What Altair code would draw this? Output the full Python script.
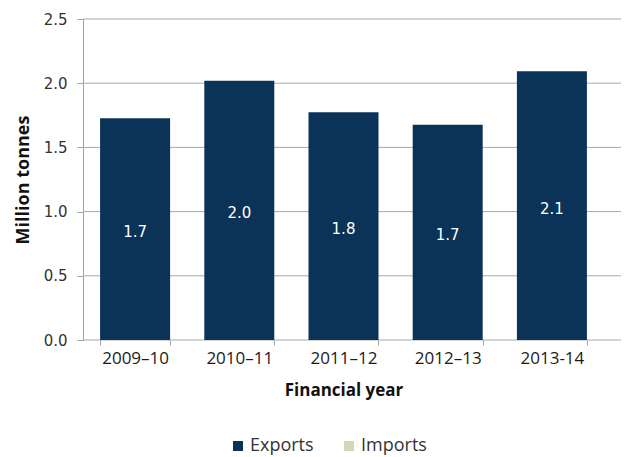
import altair as alt
import pandas as pd

years = ["2009–10", "2010–11", "2011–12", "2012–13", "2013-14"]
exports = [1.727, 2.02, 1.773, 1.677, 2.093]
labels = ["1.7", "2.0", "1.8", "1.7", "2.1"]
series = ["Exports", "Imports"]
colors = ["#0b3257", "#d5d5b8"]
y_ticks = [0, 0.5, 1.0, 1.5, 2.0, 2.5]

df = pd.DataFrame({
    "year": years,
    "value": exports,
    "half": [v / 2 for v in exports],
    "label": labels,
    "series": ["Exports"] * len(years),
})
grid_df = pd.DataFrame({"tick": y_ticks})

y_scale = alt.Scale(domain=[0, 2.5], nice=False)
y_axis = alt.Axis(
    title="Million tonnes",
    values=y_ticks,
    format=".1f",
    grid=False,
    labelFont="DejaVu Sans",
    labelFontSize=15,
    labelColor="#333333",
    labelPadding=10,
    tickSize=6,
    tickColor="#a0a0a0",
    domainColor="#a0a0a0",
    titleFont="Open Sans",
    titleFontSize=18,
    titleFontWeight="bold",
    titleColor="#111111",
    titlePadding=11,
)

grid = alt.Chart(grid_df).mark_rule(color="#a8a8a8", strokeWidth=1).encode(
    y=alt.Y("tick:Q", scale=y_scale, axis=y_axis),
    x=alt.value(0),
    x2=alt.value(538),
)

x_enc = alt.X(
    "year:N",
    sort=years,
    scale=alt.Scale(domain=years, range=[0, 521], paddingInner=0.33, paddingOuter=0.165),
    axis=alt.Axis(
        title="Financial year",
        labelAngle=0,
        labelFont="Open Sans",
        labelFontSize=17,
        labelColor="#1a1a1a",
        labelPadding=5,
        tickBand="extent",
        tickSize=5,
        tickColor="#a0a0a0",
        domain=False,
        titleFont="Open Sans",
        titleFontSize=17,
        titleFontWeight="bold",
        titleColor="#111111",
        titlePadding=16,
    ),
)

bars = alt.Chart(df).mark_bar(size=70).encode(
    x=x_enc,
    y=alt.Y("value:Q", scale=y_scale, axis=y_axis),
    color=alt.Color(
        "series:N",
        scale=alt.Scale(domain=series, range=colors),
        legend=alt.Legend(
            title=None,
            orient="none",
            legendX=146,
            legendY=418,
            direction="horizontal",
            symbolType="square",
            symbolSize=100,
            symbolStrokeWidth=0,
            labelFont="Open Sans",
            labelFontSize=18,
            labelColor="#333333",
            columnPadding=26,
            labelOffset=3,
        ),
    ),
)

text = alt.Chart(df).mark_text(
    color="white", font="DejaVu Sans", fontSize=15, baseline="middle", dy=3
).encode(
    x=alt.X("year:N", sort=years),
    y=alt.Y("half:Q", scale=y_scale, axis=y_axis),
    text="label:N",
)

chart = alt.layer(grid, bars, text).properties(
    width=538,
    height=321,
    autosize=alt.AutoSizeParams(type="none"),
    padding={"left": 75, "top": 11, "right": 8, "bottom": 125},
).configure_view(stroke=None).configure_axis(grid=False)

chart.save("out.html", embed_options={"renderer": "svg", "actions": False})
